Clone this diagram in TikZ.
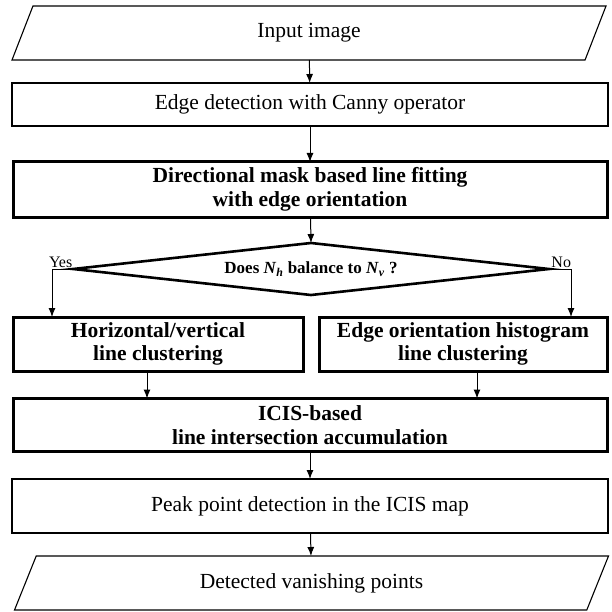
\documentclass[tikz,border=0pt]{standalone}
\usepackage{fontspec}
\setmainfont{Liberation Serif}
\usetikzlibrary{shapes.geometric,arrows.meta}

\begin{document}
\begin{tikzpicture}[x=1pt,y=-1pt]
	\tikzstyle{every node}+=[inner sep=0pt,outer sep=0pt,align=center]
	\tikzstyle{iobox}=[draw,line width=1.1pt,trapezium,trapezium left angle=42,trapezium right angle=138,trapezium stretches body,minimum width=594,minimum height=54,font=\fontsize{21.5}{25}\selectfont]
	\tikzstyle{plainbox}=[draw,line width=1.1pt,rectangle,font=\fontsize{21.5}{25}\selectfont]
	\tikzstyle{boldbox}=[draw,line width=3pt,rectangle,font=\bfseries\fontsize{21.5}{23.5}\selectfont]
	\tikzstyle{flow}=[line width=1pt,-{Latex[length=9pt,width=7pt]}]
	\tikzstyle{answer}=[font=\fontsize{16}{18}\selectfont,yshift=1pt]
	\useasboundingbox (0,0) rectangle (611,612);
	% stages
	\node [iobox] (inp) at (309,33) {Input image};
	\node [plainbox,minimum width=596,minimum height=43] (canny) at (310,104.5) {Edge detection with Canny operator};
	\node [boldbox,minimum width=594,minimum height=55] (fit) at (310,189.5) {Directional mask based line fitting\\with edge orientation};
	\node [minimum width=476,minimum height=52,font=\bfseries\fontsize{17}{19}\selectfont] (bal) at (311,269) {Does \textit{N}\textsubscript{\textit{h}} balance to \textit{N}\textsubscript{\textit{v}} ?};
	\draw [line width=2.6pt,line join=miter] (bal.west) -- (bal.north) -- (bal.east) -- (bal.south) -- cycle;
	\node [boldbox,minimum width=290,minimum height=54] (hv) at (158,344) {Horizontal/vertical\\line clustering};
	\node [boldbox,minimum width=288,minimum height=54] (eoh) at (463,344) {Edge orientation histogram\\line clustering};
	\node [boldbox,minimum width=594,minimum height=53] (icis) at (310,425) {ICIS-based\\line intersection accumulation};
	\node [plainbox,minimum width=596,minimum height=54] (peak) at (310,506) {Peak point detection in the ICIS map};
	\node [iobox] (outp) at (311.5,583) {Detected vanishing points};
	% connectors
	\draw [flow] (inp) -- (canny);
	\draw [flow] (canny) -- (fit);
	\draw [flow] (fit) -- (bal.north);
	\draw [flow] (bal.west) -| ([xshift=39]hv.north west) node [answer,pos=0.5,anchor=south west,xshift=-3pt] {Yes};
	\draw [flow] (bal.east) -| ([xshift=-36]eoh.north east) node [answer,pos=0.5,anchor=south east] {No};
	\draw [flow] ([xshift=-11]hv.south) -- ([xshift=-11]hv.south |- icis.north);
	\draw [flow] ([xshift=14]eoh.south) -- ([xshift=14]eoh.south |- icis.north);
	\draw [flow] (icis) -- (peak);
	\draw [flow] (peak) -- (outp);
\end{tikzpicture}
\end{document}
